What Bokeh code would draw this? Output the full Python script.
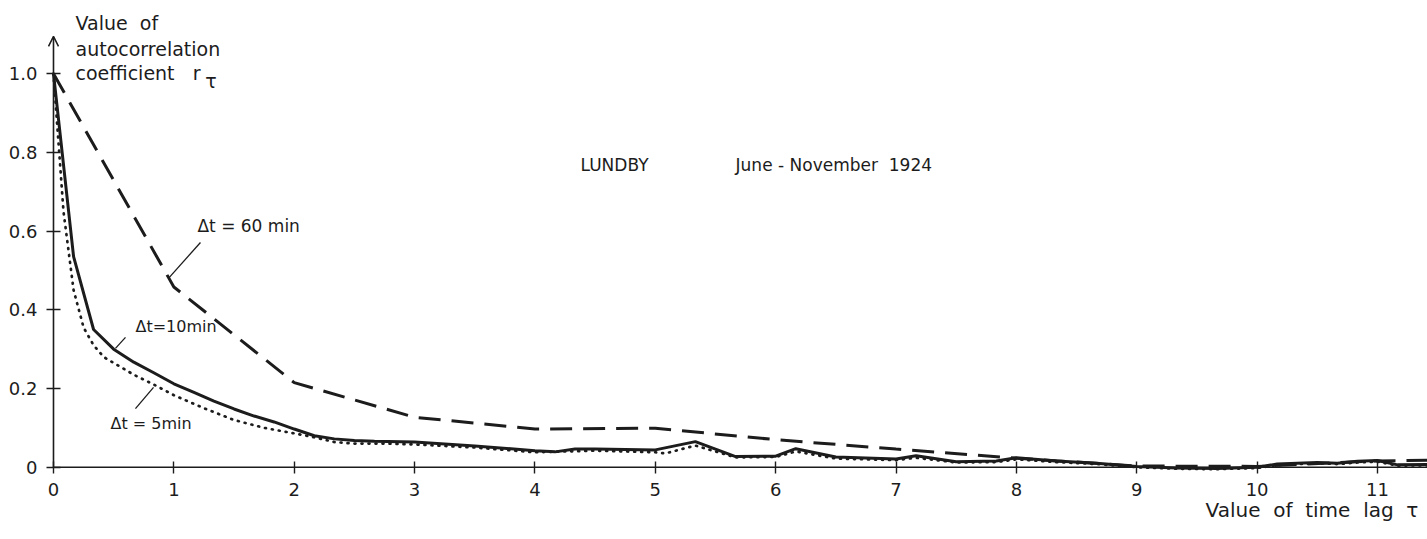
from bokeh.plotting import figure
from bokeh.models import (Range1d, FixedTicker, CustomJSTickFormatter, Label,
                          Arrow, OpenHead)
from bokeh.embed import file_html
from bokeh.resources import INLINE

# ---- data ----
lag_60 = [0, 1, 2, 3, 4, 5, 6, 7, 8, 9, 10, 11, 12]
r_60 = [1.0, 0.458, 0.215, 0.127, 0.097, 0.099, 0.07, 0.046, 0.023, 0.003, 0.002, 0.016, 0.02]

lag_10 = [0, 0.167, 0.333, 0.5, 0.667, 0.833, 1.0, 1.167, 1.333, 1.5, 1.667, 1.833,
          2.0, 2.167, 2.333, 2.5, 2.667, 3.0, 3.5, 4.0, 4.167, 4.333, 4.5, 5.0,
          5.333, 5.667, 6.0, 6.167, 6.5, 7.0, 7.167, 7.5, 7.833, 8.0, 8.333, 8.667,
          9.0, 9.333, 9.667, 10.0, 10.167, 10.333, 10.5, 10.667, 10.833, 11.0, 11.167, 11.5]
r_10 = [1.0, 0.535, 0.35, 0.30, 0.267, 0.24, 0.212, 0.19, 0.168, 0.148, 0.13, 0.115,
        0.097, 0.08, 0.072, 0.068, 0.066, 0.064, 0.054, 0.042, 0.039, 0.046, 0.046, 0.044,
        0.065, 0.027, 0.028, 0.047, 0.026, 0.021, 0.029, 0.014, 0.016, 0.024, 0.016, 0.01,
        0.002, -0.002, -0.003, 0.0, 0.008, 0.01, 0.012, 0.01, 0.015, 0.017, 0.006, 0.007]

lag_5 = [0, 0.083, 0.167, 0.25, 0.333, 0.417, 0.5, 0.667, 0.833, 1.0, 1.25, 1.5, 1.75,
         2.0, 2.167, 2.333, 2.5, 2.75, 3.0, 3.5, 4.0, 4.25, 4.5, 5.0, 5.083, 5.333,
         5.667, 6.0, 6.167, 6.5, 7.0, 7.167, 7.5, 7.833, 8.0, 8.333, 8.667, 9.0, 9.333,
         9.667, 10.0, 10.167, 10.333, 10.5, 10.667, 10.833, 11.0, 11.167, 11.5]
r_5 = [1.0, 0.65, 0.45, 0.355, 0.31, 0.28, 0.265, 0.235, 0.21, 0.183, 0.15, 0.12, 0.10,
       0.086, 0.076, 0.064, 0.06, 0.06, 0.058, 0.05, 0.038, 0.04, 0.042, 0.038, 0.035, 0.055,
       0.025, 0.026, 0.04, 0.022, 0.018, 0.024, 0.012, 0.013, 0.02, 0.013, 0.008, 0.0, -0.004,
       -0.005, -0.002, 0.005, 0.008, 0.01, 0.008, 0.012, 0.014, 0.004, 0.005]

x_ticks = [0, 1, 2, 3, 4, 5, 6, 7, 8, 9, 10, 11]
y_ticks = [0, 0.2, 0.4, 0.6, 0.8, 1.0]

FONT = "DejaVu Sans"
INK = "#1c1c1c"
SP = "\u00a0"

p = figure(width=1427, height=539, output_backend="svg", toolbar_location=None,
           x_range=Range1d(-0.4403, 11.4157), y_range=Range1d(-0.1837, 1.186),
           min_border=0, min_border_left=0, min_border_right=0,
           min_border_top=0, min_border_bottom=0)
p.outline_line_color = None
p.grid.visible = False
p.background_fill_color = "white"
p.border_fill_color = "white"

# axes placed at the data origin (their lines are drawn below as arrows)
for ax in (p.xaxis[0], p.yaxis[0]):
    ax.fixed_location = 0
    ax.axis_line_color = None
    ax.major_tick_line_color = INK
    ax.major_tick_line_width = 1.4
    ax.minor_tick_line_color = None
    ax.major_label_text_font = FONT
    ax.major_label_text_font_size = "18px"
    ax.major_label_text_color = INK

p.xaxis.ticker = FixedTicker(ticks=x_ticks)
p.xaxis.major_tick_in = 6
p.xaxis.major_tick_out = 6
p.xaxis.major_label_standoff = 10

p.yaxis.ticker = FixedTicker(ticks=y_ticks)
p.yaxis.major_tick_in = 7
p.yaxis.major_tick_out = 7
p.yaxis.major_label_standoff = 9
p.yaxis.formatter = CustomJSTickFormatter(code="return tick == 0 ? '0' : tick.toFixed(1);")

# axis lines: y with an open arrow head, x running to the right edge
p.add_layout(Arrow(end=OpenHead(size=10, line_width=1.5, line_color=INK),
                   x_start=0, y_start=0, x_end=0, y_end=1.095,
                   line_color=INK, line_width=1.6))
p.add_layout(Arrow(end=None, x_start=0, y_start=0, x_end=11.6, y_end=0,
                   line_color=INK, line_width=1.6))

# curves
p.line(lag_5, r_5, line_color=INK, line_width=2.7, line_dash="1 6", line_cap="round")
p.line(lag_10, r_10, line_color=INK, line_width=3)
p.line(lag_60, r_60, line_color=INK, line_width=3, line_dash="22 11")

def lab(x, y, t, size="17px", align="left", baseline="middle"):
    p.add_layout(Label(x=x, y=y, text=t, text_font=FONT, text_font_size=size,
                       text_color=INK, text_align=align, text_baseline=baseline))

# axis titles
lab(0.183, 1.130, "Value" + SP * 2 + "of", size="19px")
lab(0.183, 1.062, "autocorrelation", size="19px")
lab(0.183, 1.003, "coefficient" + SP * 3 + "r", size="19px")
lab(1.26, 0.982, "τ", size="19px")
lab(11.34, -0.11, SP.join(["Value", "", "of", "", "time", "", "lag", "", "τ"]),
    size="20px", align="right")

# chart title
lab(4.379, 0.767, "LUNDBY")
lab(5.667, 0.767, "June" + SP + "-" + SP + "November" + SP * 2 + "1924")

# series labels
lab(1.196, 0.614, "Δt = 60 min")
lab(0.681, 0.358, "Δt=10min", size="16px")
lab(0.474, 0.111, "Δt = 5min", size="16px")

# leader lines
p.segment(x0=[1.221, 0.598, 0.831], y0=[0.571, 0.33, 0.203],
          x1=[0.955, 0.515, 0.681], y1=[0.48, 0.302, 0.149],
          line_color=INK, line_width=1.3)

open("out.html", "w").write(file_html(p, INLINE))
